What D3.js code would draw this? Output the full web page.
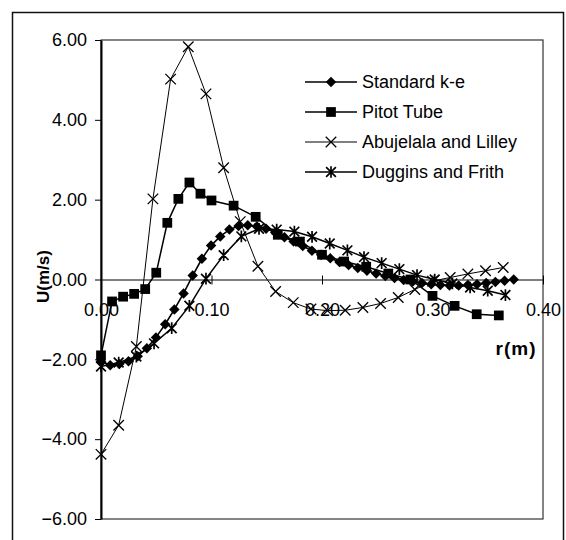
<!DOCTYPE html>
<html>
<head>
<meta charset="utf-8">
<script src="https://cdn.jsdelivr.net/npm/d3@7"></script>
<style>
  body { margin: 0; background: #fff; }
  text { font-family: "Liberation Sans", Arial, sans-serif; fill: #000; }
</style>
</head>
<body>
<div id="chart"></div>
<script>
// data
var seriesNames = ["Standard k-e", "Pitot Tube", "Abujelala and Lilley", "Duggins and Frith"];

var keR = [0, 0.0083, 0.0166, 0.0249, 0.0332, 0.0415, 0.0498, 0.0581, 0.0664, 0.0747,
  0.083, 0.0913, 0.0996, 0.1079, 0.1162, 0.1245, 0.1328, 0.1411, 0.1494, 0.1577,
  0.166, 0.1743, 0.1826, 0.1909, 0.1992, 0.2075, 0.2158, 0.2241, 0.2324, 0.2407,
  0.249, 0.2573, 0.2656, 0.2739, 0.2822, 0.2905, 0.2988, 0.3071, 0.3154, 0.3237,
  0.332, 0.3403, 0.3486, 0.3569, 0.3652, 0.3735];
var keU = [-2.05, -2.15, -2.12, -2.05, -1.92, -1.72, -1.45, -1.12, -0.75, -0.35,
  0.1, 0.52, 0.85, 1.08, 1.25, 1.34, 1.36, 1.33, 1.27, 1.18,
  1.06, 0.95, 0.84, 0.72, 0.62, 0.53, 0.44, 0.36, 0.29, 0.22,
  0.15, 0.09, 0.04, -0.01, -0.05, -0.09, -0.12, -0.14, -0.15, -0.15,
  -0.14, -0.12, -0.09, -0.06, -0.03, 0.0];

var pitotR = [0, 0.01, 0.02, 0.03, 0.04, 0.05, 0.06, 0.07, 0.08, 0.09, 0.10, 0.12,
  0.14, 0.16, 0.18, 0.20, 0.22, 0.24, 0.26, 0.28, 0.30, 0.32, 0.34, 0.36];
var pitotU = [-1.9, -0.55, -0.43, -0.36, -0.24, 0.17, 1.42, 2.02, 2.43, 2.15, 1.98, 1.85,
  1.57, 1.12, 0.95, 0.62, 0.45, 0.32, 0.15, 0.0, -0.41, -0.66, -0.87, -0.9];

var abuR = [0, 0.016, 0.032, 0.047, 0.063, 0.079, 0.095, 0.111, 0.126, 0.142, 0.158, 0.174,
  0.190, 0.205, 0.221, 0.237, 0.253, 0.269, 0.284, 0.300, 0.316, 0.332, 0.348, 0.364];
var abuU = [-4.38, -3.65, -1.68, 2.02, 5.02, 5.83, 4.65, 2.8, 1.45, 0.33, -0.3, -0.58,
  -0.74, -0.78, -0.77, -0.7, -0.6, -0.45, -0.25, -0.04, 0.05, 0.14, 0.22, 0.3];

var dugR = [0, 0.016, 0.032, 0.048, 0.064, 0.080, 0.095, 0.111, 0.127, 0.143, 0.159, 0.175,
  0.191, 0.207, 0.223, 0.238, 0.254, 0.270, 0.286, 0.302, 0.318, 0.334, 0.350, 0.366];
var dugU = [-2.18, -2.08, -1.93, -1.6, -1.22, -0.66, 0.02, 0.61, 1.08, 1.27, 1.25, 1.2,
  1.07, 0.9, 0.73, 0.56, 0.41, 0.26, 0.11, 0.0, -0.1, -0.2, -0.28, -0.39];

var xTicks = [0, 0.1, 0.2, 0.3, 0.4];
var yTicks = [-6, -4, -2, 0, 2, 4, 6];

// layout
var width = 566, height = 540;
var plot = { left: 101, right: 543, top: 40, bottom: 519 };

var svg = d3.select("#chart")
  .append("svg")
  .attr("width", width)
  .attr("height", height);

// outer frame
svg.append("rect")
  .attr("x", 12.5).attr("y", 12.5)
  .attr("width", 551).attr("height", 560)
  .attr("fill", "none")
  .attr("stroke", "#111")
  .attr("stroke-width", 1.5);

var x = d3.scaleLinear().domain([0, 0.4]).range([plot.left, plot.right]);
var y = d3.scaleLinear().domain([-6, 6]).range([plot.bottom, plot.top]);

// plot area border
svg.append("rect")
  .attr("x", plot.left).attr("y", plot.top)
  .attr("width", plot.right - plot.left)
  .attr("height", plot.bottom - plot.top)
  .attr("fill", "none")
  .attr("stroke", "#333")
  .attr("stroke-width", 1.2);

// y axis
var yAxis = svg.append("g")
  .attr("transform", "translate(" + plot.left + ",0)")
  .call(d3.axisLeft(y).tickValues(yTicks).tickFormat(d3.format(".2f"))
    .tickSizeInner(6).tickSizeOuter(0).tickPadding(8));
yAxis.select(".domain").attr("stroke", "#000").attr("stroke-width", 2);
yAxis.selectAll("text")
  .style("font-size", "18px")
  .attr("fill", "#000");

// x axis sits on U = 0
var xAxis = svg.append("g")
  .attr("transform", "translate(0," + y(0) + ")")
  .call(d3.axisBottom(x).tickValues(xTicks).tickFormat(d3.format(".2f"))
    .tickSizeInner(5).tickSizeOuter(0));
xAxis.select(".domain").attr("stroke", "#000").attr("stroke-width", 1);
xAxis.selectAll(".tick line").attr("y1", -4);
xAxis.selectAll("text")
  .attr("y", 30)
  .attr("dy", "0.35em")
  .style("font-size", "18px")
  .attr("fill", "#000");

// axis titles
svg.append("text")
  .attr("transform", "translate(43," + (y(0) - 3) + ") rotate(-90)")
  .attr("text-anchor", "middle")
  .attr("dy", "0.35em")
  .style("font-size", "17px")
  .style("font-weight", "bold")
  .text("U(m/s)");

svg.append("text")
  .attr("x", 516).attr("y", 348)
  .attr("text-anchor", "middle")
  .attr("dy", "0.35em")
  .style("font-size", "19px")
  .style("font-weight", "bold")
  .style("letter-spacing", "1px")
  .text("r(m)");

// custom markers
var symbolCross = {
  draw: function(ctx, size) {
    var r = Math.sqrt(size) / 2;
    ctx.moveTo(-r, -r); ctx.lineTo(r, r);
    ctx.moveTo(-r, r); ctx.lineTo(r, -r);
  }
};
var symbolStar = {
  draw: function(ctx, size) {
    var r = Math.sqrt(size) / 2;
    ctx.moveTo(-r, -r); ctx.lineTo(r, r);
    ctx.moveTo(-r, r); ctx.lineTo(r, -r);
    ctx.moveTo(0, -r * 1.2); ctx.lineTo(0, r * 1.2);
  }
};

var series = [
  { name: seriesNames[0], r: keR, u: keU, type: d3.symbolDiamond2, size: 70, fill: "#000", lw: 1.6, mw: 0 },
  { name: seriesNames[1], r: pitotR, u: pitotU, type: d3.symbolSquare, size: 95, fill: "#000", lw: 1.5, mw: 0 },
  { name: seriesNames[2], r: abuR, u: abuU, type: symbolCross, size: 110, fill: "none", lw: 1, mw: 1.3 },
  { name: seriesNames[3], r: dugR, u: dugU, type: symbolStar, size: 95, fill: "none", lw: 1.5, mw: 1.7 }
];

var line = d3.line()
  .x(function(d) { return x(d[0]); })
  .y(function(d) { return y(d[1]); });

series.forEach(function(s) {
  var pts = s.r.map(function(r, i) { return [r, s.u[i]]; });
  var g = svg.append("g");
  g.append("path")
    .datum(pts)
    .attr("d", line)
    .attr("fill", "none")
    .attr("stroke", "#000")
    .attr("stroke-width", s.lw);
  g.selectAll(".mk")
    .data(pts)
    .enter()
    .append("path")
    .attr("class", "mk")
    .attr("transform", function(d) { return "translate(" + x(d[0]) + "," + y(d[1]) + ")"; })
    .attr("d", d3.symbol().type(s.type).size(s.size))
    .attr("fill", s.fill)
    .attr("stroke", s.fill == "none" ? "#000" : "none")
    .attr("stroke-width", s.mw);
});

// legend
var legend = svg.append("g");
var rows = legend.selectAll("g")
  .data(series)
  .enter()
  .append("g")
  .attr("transform", function(d, i) { return "translate(0," + (82 + i * 30) + ")"; });

rows.append("line")
  .attr("x1", 305).attr("x2", 357)
  .attr("stroke", "#000")
  .attr("stroke-width", function(d) { return d.lw; });

rows.append("path")
  .attr("transform", "translate(331,0)")
  .attr("d", function(d) { return d3.symbol().type(d.type).size(d.size)(); })
  .attr("fill", function(d) { return d.fill; })
  .attr("stroke", function(d) { return d.fill == "none" ? "#000" : "none"; })
  .attr("stroke-width", function(d) { return d.mw; });

rows.append("text")
  .attr("x", 362)
  .attr("dy", "0.35em")
  .style("font-size", "18px")
  .text(function(d) { return d.name; });
</script>
</body>
</html>
